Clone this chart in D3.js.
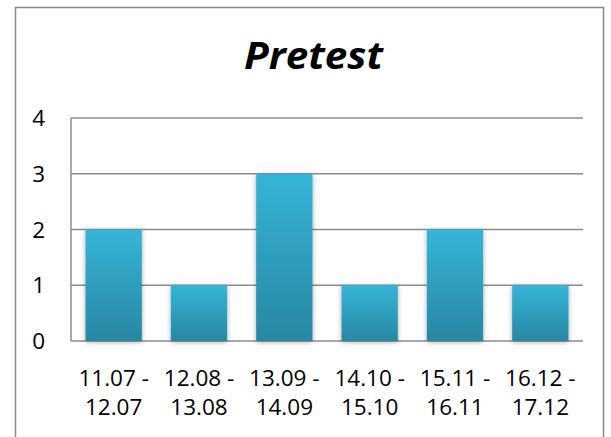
<!DOCTYPE html>
<html><head><meta charset="utf-8">
<script src="https://cdn.jsdelivr.net/npm/d3@7"></script>
<style>body{margin:0;background:#fff}</style>
</head><body>
<script>
const categories = [["11.07 -","12.07"],["12.08 -","13.08"],["13.09 -","14.09"],["14.10 -","15.10"],["15.11 -","16.11"],["16.12 -","17.12"]];
const values = [2,1,3,1,2,1];
const yTicks = [0,1,2,3,4];
const title = "Pretest";

const W=611,H=437;
const svg=d3.select("body").append("svg").attr("width",W).attr("height",H);
const defs=svg.append("defs");
const g=defs.append("linearGradient").attr("id","bg").attr("x1",0).attr("y1",0).attr("x2",0).attr("y2",1);
g.append("stop").attr("offset","0%").attr("stop-color","#36b4d8");
g.append("stop").attr("offset","100%").attr("stop-color","#2887a2");
const f=defs.append("filter").attr("id","sh").attr("x","-20%").attr("y","-20%").attr("width","140%").attr("height","140%");
f.append("feDropShadow").attr("dx",0).attr("dy",1).attr("stdDeviation",2.5).attr("flood-color","#000").attr("flood-opacity",0.35);

svg.append("rect").attr("x",15.5).attr("y",7.5).attr("width",588).attr("height",440).attr("fill","#fff").attr("stroke","#888").attr("stroke-width",1.5);

const font="'Open Sans', sans-serif";
const x=d3.scaleBand().domain(d3.range(categories.length)).range([71,583]).paddingInner(0.34).paddingOuter(0.17);
const y=d3.scaleLinear().domain([0,4]).range([341,118]);

svg.append("g").selectAll("line").data(yTicks).join("line")
 .attr("x1",71).attr("x2",583).attr("y1",d=>y(d)).attr("y2",d=>y(d))
 .attr("stroke","#8c8c8c").attr("stroke-width",1.5);
svg.append("line").attr("x1",71).attr("x2",71).attr("y1",y(4)).attr("y2",y(0)).attr("stroke","#8c8c8c").attr("stroke-width",1.5);

svg.append("g").selectAll("rect").data(values).join("rect")
 .attr("x",(d,i)=>x(i)).attr("width",x.bandwidth())
 .attr("y",d=>y(d)).attr("height",d=>y(0)-y(d))
 .attr("fill","url(#bg)").attr("filter","url(#sh)");

svg.append("g").selectAll("text").data(yTicks).join("text")
 .attr("x",45).attr("y",d=>y(d)+8).attr("text-anchor","end")
 .attr("font-family",font).attr("font-size",22.5).attr("fill","#000").text(d=>d);

const lab=svg.append("g").selectAll("text").data(categories).join("text")
 .attr("text-anchor","middle").attr("font-family",font).attr("font-size",22.5).attr("fill","#000");
lab.each(function(d,i){
  const t=d3.select(this);
  const cx=x(i)+x.bandwidth()/2;
  t.append("tspan").attr("x",cx).attr("y",386).text(d[0]);
  t.append("tspan").attr("x",cx).attr("y",415).text(d[1]);
});

svg.append("text").attr("x",313.5).attr("y",69).attr("text-anchor","middle")
 .attr("font-family",font).attr("font-size",37).attr("font-weight","bold").attr("font-style","italic")
 .attr("textLength",139).attr("lengthAdjust","spacingAndGlyphs").text(title);
</script>
</body></html>
